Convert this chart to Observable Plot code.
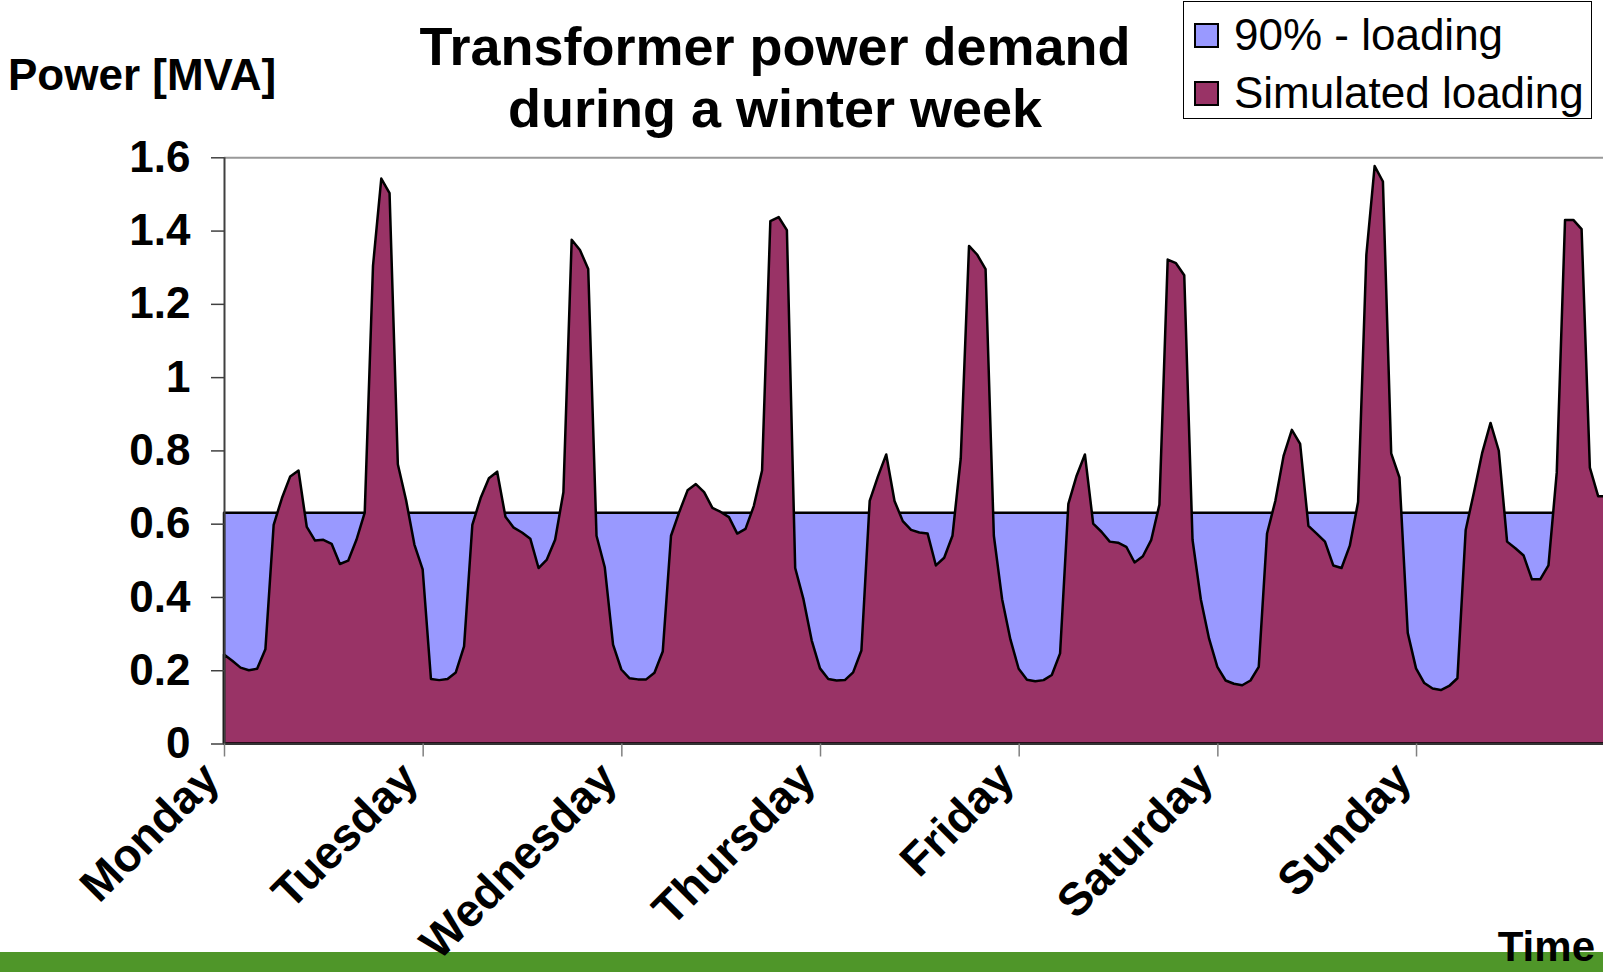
<!DOCTYPE html>
<html>
<head>
<meta charset="utf-8">
<script src="https://cdn.jsdelivr.net/npm/d3@7"></script>
<script src="https://cdn.jsdelivr.net/npm/@observablehq/plot@0.6"></script>
<style>
  html, body { margin: 0; padding: 0; overflow: hidden; background: #fff; }
  #wrap { position: relative; width: 1603px; height: 972px; overflow: hidden;
          font-family: "Liberation Sans", Arial, sans-serif; color: #000; }
  #band { position: absolute; left: 0; top: 952px; width: 1603px; height: 20px; background: #4F9629; z-index: 0; }
  #chart { position: absolute; left: 0; top: 0; z-index: 1; }
  .t { position: absolute; white-space: nowrap; line-height: 1; z-index: 2; }
  #title { position: absolute; left: 375px; width: 800px; top: 15px; text-align: center;
           font-weight: bold; font-size: 54px; line-height: 62px; z-index: 2; }
  #legend { position: absolute; left: 1183px; top: 1px; width: 409px; height: 118px;
            border: 1px solid #000; background: #fff; z-index: 2; box-sizing: border-box; }
  .sw { position: absolute; width: 25px; height: 25px; border: 2px solid #000; box-sizing: border-box; }
  .lt { position: absolute; font-size: 44px; line-height: 1; white-space: nowrap; }
</style>
</head>
<body>
<div id="wrap">
  <div id="band"></div>
  <div id="chart"></div>
  <div id="title">Transformer power demand<br>during a winter week</div>
  <div class="t" style="left:8px; top:53px; font-size:44px; font-weight:bold;">Power [MVA]</div>
  <div class="t" style="right:8px; top:926px; font-size:42px; line-height:42px; font-weight:bold;">Time</div>
  <div id="legend">
    <div class="sw" style="left:10px; top:21px; background:#9999FF;"></div>
    <div class="lt" style="left:50px; top:11px;">90% - loading</div>
    <div class="sw" style="left:10px; top:79px; background:#993366;"></div>
    <div class="lt" style="left:50px; top:69px;">Simulated loading</div>
  </div>
</div>
<script>
// Category labels (one per day, ticks every 24 hourly samples)
const dayNames = ["Monday", "Tuesday", "Wednesday", "Thursday", "Friday", "Saturday", "Sunday"];
const dayTicks = [0, 24, 48, 72, 96, 120, 144];
const yTicks = [0, 0.2, 0.4, 0.6, 0.8, 1, 1.2, 1.4, 1.6];

// 90 % loading level [MVA]
const limit90 = 0.63;

// Simulated hourly loading [MVA], hours 0..23 of each day
const monday    = [0.243,0.226,0.207,0.200,0.204,0.257,0.597,0.670,0.729,0.745,0.591,0.554,0.556,0.545,0.490,0.499,0.556,0.630,1.304,1.542,1.502,0.762,0.664,0.543];
const tuesday   = [0.475,0.176,0.173,0.176,0.194,0.265,0.597,0.670,0.724,0.742,0.619,0.589,0.576,0.559,0.479,0.502,0.556,0.686,1.375,1.347,1.295,0.567,0.481,0.270];
const wednesday = [0.202,0.178,0.175,0.175,0.193,0.251,0.567,0.632,0.691,0.708,0.686,0.643,0.632,0.618,0.573,0.586,0.648,0.745,1.426,1.437,1.401,0.479,0.394,0.281];
const thursday  = [0.205,0.176,0.172,0.173,0.194,0.254,0.662,0.729,0.789,0.662,0.607,0.583,0.576,0.573,0.486,0.507,0.567,0.778,1.358,1.334,1.295,0.567,0.394,0.284];
const friday    = [0.204,0.174,0.170,0.173,0.187,0.246,0.654,0.731,0.789,0.600,0.578,0.551,0.548,0.537,0.494,0.511,0.555,0.652,1.321,1.311,1.278,0.556,0.394,0.286];
const saturday  = [0.209,0.172,0.163,0.159,0.172,0.209,0.573,0.662,0.785,0.856,0.818,0.594,0.573,0.551,0.486,0.479,0.540,0.659,1.334,1.576,1.534,0.792,0.726,0.302];
const sunday    = [0.205,0.165,0.150,0.146,0.157,0.178,0.583,0.686,0.794,0.875,0.799,0.551,0.533,0.513,0.448,0.448,0.486,0.740,1.429,1.429,1.404,0.753,0.675,0.675];

const load = [...monday, ...tuesday, ...wednesday, ...thursday, ...friday, ...saturday, ...sunday];
const rows = load.map((v, i) => ({h: i, v, lim: limit90}));

const fontFamily = '"Liberation Sans", Arial, sans-serif';

const chart = Plot.plot({
  width: 1603,
  height: 972,
  marginLeft: 224,
  marginTop: 157.3,
  marginBottom: 228.5,
  marginRight: 0,
  x: {domain: [0, 168], range: [224, 1614.7]},
  y: {domain: [0, 1.6]},
  style: {background: "transparent", fontFamily, overflow: "hidden", color: "#000"},
  marks: [
    Plot.areaY(rows, {x: "h", y: "lim", fill: "#9999FF", stroke: "#000", strokeWidth: 2.5}),
    Plot.areaY(rows, {x: "h", y: "v", fill: "#993366", stroke: "#000", strokeWidth: 2.5}),
    Plot.ruleY([1.6], {stroke: "#999", strokeWidth: 2}),
    Plot.ruleY([0], {stroke: "#333", strokeWidth: 2}),
    Plot.ruleX([0], {stroke: "#404040", strokeWidth: 2}),
    Plot.axisY({
      ticks: yTicks, tickFormat: d => String(d), tickSize: 13, tickPadding: 21,
      fontSize: 44, fontWeight: "bold", label: null, stroke: "#404040", strokeWidth: 1.5
    }),
    // tick marks only
    Plot.axisX({
      ticks: dayTicks, tickFormat: () => "", tickSize: 13,
      label: null, stroke: "#808080", strokeWidth: 1.5
    }),
    // rotated day labels only
    Plot.axisX({
      ticks: dayTicks, tickFormat: d => dayNames[d / 24], tickRotate: -45,
      tickSize: 0, tickPadding: 27, dx: -13,
      fontSize: 46, fontWeight: "bold", label: null
    })
  ]
});
document.getElementById("chart").appendChild(chart);
</script>
</body>
</html>
